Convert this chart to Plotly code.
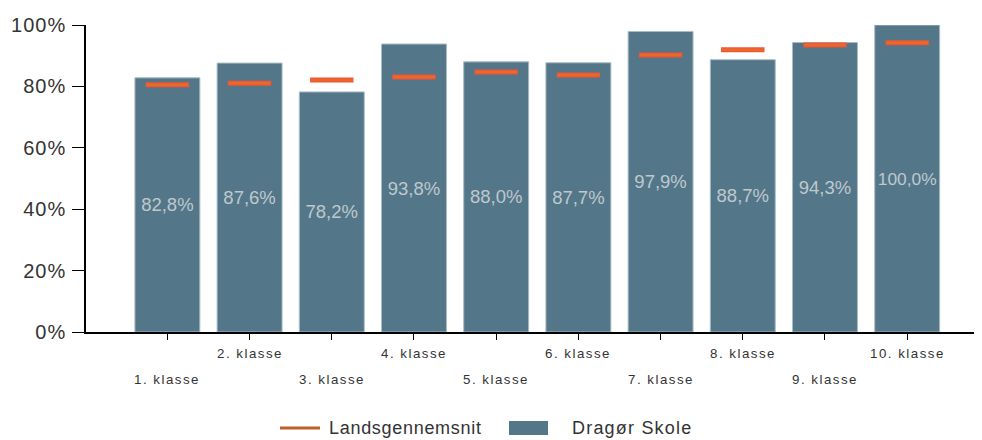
import plotly.graph_objects as go

categories = ["1. klasse", "2. klasse", "3. klasse", "4. klasse", "5. klasse",
              "6. klasse", "7. klasse", "8. klasse", "9. klasse", "10. klasse"]
school_values = [82.8, 87.6, 78.2, 93.8, 88.0, 87.7, 97.9, 88.7, 94.3, 100.0]
national_avg = [80.5, 81.0, 82.1, 83.1, 84.7, 83.7, 90.2, 91.9, 93.5, 94.2]
y_ticks = [0, 20, 40, 60, 80, 100]
y_tick_labels = ["0%", "20%", "40%", "60%", "80%", "100%"]
series_names = ["Landsgennemsnit", "Dragør Skole"]

bar_color = "#537789"
orange = "#ea6a25"
dark_orange = "#7a3010"
legend_line = "#c0612c"
font_family = "Arial, Liberation Sans, sans-serif"


def spaced(txt, px):
    return f'<span style="letter-spacing:{px}px">{txt}</span>'


labels = [f"{v:.1f}%".replace(".", ",") for v in school_values]

fig = go.Figure()
fig.add_trace(go.Bar(
    x=categories, y=school_values, name=series_names[1], showlegend=False,
    marker=dict(color=bar_color, line=dict(color="#a9bcc6", width=1)),
    text=labels, textposition="inside", insidetextanchor="middle",
    textfont=dict(color="#bfc8ce", size=18.5, family=font_family),
    textangle=0, hoverinfo="skip",
))
fig.add_trace(go.Scatter(
    x=categories, y=national_avg, mode="markers", showlegend=False,
    marker=dict(symbol="line-ew-open", size=31, line=dict(color=dark_orange, width=5)),
    hoverinfo="skip",
))
fig.add_trace(go.Scatter(
    x=categories, y=national_avg, mode="markers", name=series_names[0], showlegend=False,
    marker=dict(symbol="line-ew-open", size=29.5, color=orange, line=dict(color=orange, width=2.5)),
))

for i, cat in enumerate(categories):
    fig.add_annotation(
        x=cat, xref="x", y=0, yref="paper", text=spaced(cat, 1.5), showarrow=False,
        yanchor="middle", yshift=-21 if i % 2 == 1 else -47,
        font=dict(size=13.3, color="#333333", family=font_family),
    )


# custom legend (paper coordinates; plot area spans 896 x 307 px)
def px_x(v):
    return (v - 86) / 896


def px_y(v):
    return (332 - v) / 307


fig.add_shape(type="line", xref="paper", yref="paper",
              x0=px_x(280), x1=px_x(320), y0=px_y(428), y1=px_y(428),
              line=dict(color=legend_line, width=3))
fig.add_annotation(x=px_x(327), y=px_y(428), xref="paper", yref="paper",
                   xanchor="left", yanchor="middle", showarrow=False,
                   text=spaced(series_names[0], 0.7),
                   font=dict(size=18, color="#333333", family=font_family))
fig.add_shape(type="rect", xref="paper", yref="paper",
              x0=px_x(509), x1=px_x(548), y0=px_y(421), y1=px_y(435),
              fillcolor=bar_color, line=dict(width=0))
fig.add_annotation(x=px_x(570), y=px_y(428), xref="paper", yref="paper",
                   xanchor="left", yanchor="middle", showarrow=False,
                   text=spaced(series_names[1], 1.2),
                   font=dict(size=18, color="#333333", family=font_family))

fig.update_layout(
    width=982, height=440,
    margin=dict(l=78, r=8, t=17, b=116, autoexpand=False),
    paper_bgcolor="white", plot_bgcolor="white",
    bargap=0.21,
    font=dict(family=font_family, color="#333333"),
    showlegend=False,
    xaxis=dict(range=[-0.99, 9.91], showline=True, linecolor="black", linewidth=1.5,
               ticks="outside", ticklen=6, tickcolor="black", showticklabels=False,
               showgrid=False, zeroline=False, automargin=False),
    yaxis=dict(range=[0, 100], tickvals=y_ticks,
               ticktext=[spaced(t, 1) for t in y_tick_labels],
               showline=True, linecolor="black", linewidth=1.5,
               ticks="outside", ticklen=12, tickcolor="black",
               ticklabelstandoff=2,
               tickfont=dict(size=20, color="#333333"),
               showgrid=False, zeroline=False, automargin=False),
)

fig.write_html("out.html")
